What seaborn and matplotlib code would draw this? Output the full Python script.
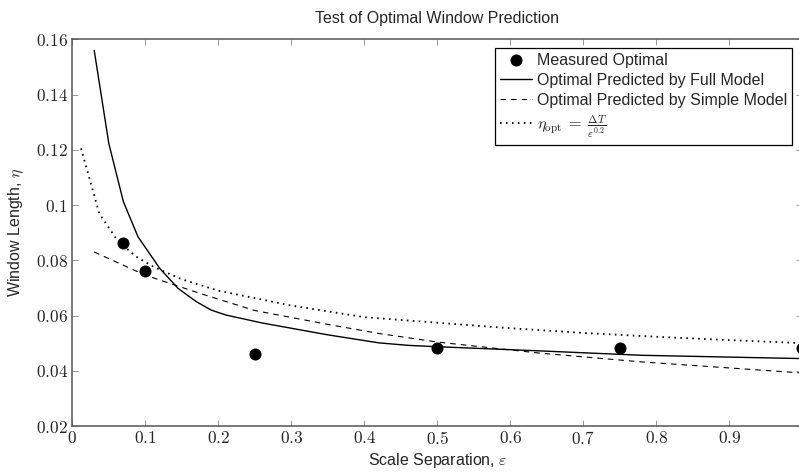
import matplotlib
matplotlib.use("Agg")
import matplotlib.pyplot as plt
from matplotlib.ticker import FuncFormatter
import seaborn as sns
import pandas as pd

# ---- data ----
meas_x = [0.07, 0.10, 0.25, 0.50, 0.75, 1.00]
meas_y = [0.0861, 0.0762, 0.0460, 0.0481, 0.0482, 0.0481]

full_x = [0.03, 0.05, 0.07, 0.09, 0.12, 0.145, 0.17, 0.19, 0.21, 0.26, 0.35, 0.42, 0.46, 0.50, 0.64, 0.78, 1.00]
full_y = [0.156, 0.1223, 0.1012, 0.0885, 0.0770, 0.0698, 0.0650, 0.0620, 0.0602, 0.0573, 0.0530, 0.0501, 0.0492, 0.0487, 0.0472, 0.0456, 0.0444]

simple_x = [0.03, 0.10, 0.175, 0.25, 0.35, 0.42, 0.50, 0.64, 0.78, 1.00]
simple_y = [0.0830, 0.0746, 0.0680, 0.0618, 0.0568, 0.0535, 0.0504, 0.0464, 0.0432, 0.0392]

opt_x = [0.012, 0.037, 0.062, 0.087, 0.112, 0.15, 0.20, 0.30, 0.40, 0.50, 0.60, 0.70, 0.80, 0.90, 1.00]
opt_y = [0.1205, 0.0969, 0.0871, 0.0814, 0.0775, 0.0731, 0.0690, 0.0636, 0.0594, 0.0574, 0.0554, 0.0537, 0.0523, 0.0511, 0.0500]

xticks = [0, 0.1, 0.2, 0.3, 0.4, 0.5, 0.6, 0.7, 0.8, 0.9]
yticks = [0.02, 0.04, 0.06, 0.08, 0.1, 0.12, 0.14, 0.16]

title = "Test of Optimal Window Prediction"
xlabel = r"Scale Separation, $\varepsilon$"
ylabel = r"Window Length, $\eta$"
labels = ["Measured Optimal", "Optimal Predicted by Full Model",
          "Optimal Predicted by Simple Model",
          r"$\eta_{\rm opt}\;=\;\frac{\Delta T}{\varepsilon^{0.2}}$"]

# ---- styling ----
sns.set_style("ticks")
plt.rcParams["font.family"] = ["Liberation Sans", "DejaVu Sans"]
plt.rcParams["mathtext.fontset"] = "cm"

fig = plt.figure(figsize=(7.99, 4.73), dpi=100)
ax = fig.add_axes([72.3 / 799, 1 - 426 / 473, (802.3 - 72.3) / 799, (426 - 39.3) / 473])

df_meas = pd.DataFrame({"x": meas_x, "y": meas_y})
df_full = pd.DataFrame({"x": full_x, "y": full_y})
df_simple = pd.DataFrame({"x": simple_x, "y": simple_y})
df_opt = pd.DataFrame({"x": opt_x, "y": opt_y})

sns.scatterplot(data=df_meas, x="x", y="y", ax=ax, color="black", s=75,
                edgecolor="black", linewidth=0, label=labels[0], zorder=5, clip_on=False)
sns.lineplot(data=df_full, x="x", y="y", ax=ax, color="black", lw=1.0,
             sort=False, estimator=None, label=labels[1])
sns.lineplot(data=df_simple, x="x", y="y", ax=ax, color="black", lw=0.8,
             sort=False, estimator=None, label=labels[2], dashes=False)
sns.lineplot(data=df_opt, x="x", y="y", ax=ax, color="black", lw=1.3,
             sort=False, estimator=None, label=labels[3], dashes=False)

lines = ax.get_lines()
lines[1].set_linestyle((0, (5.0, 4.5)))
lines[2].set_linestyle((0, (0.9, 2.4)))

ax.set_xlim(0, 1.0)
ax.set_ylim(0.02, 0.16)
ax.set_xticks(xticks)
ax.set_yticks(yticks)
ax.xaxis.set_major_formatter(FuncFormatter(lambda v, p: f"${v:g}$"))
ax.yaxis.set_major_formatter(FuncFormatter(lambda v, p: f"${v:g}$"))
ax.tick_params(direction="in", top=True, right=True, length=4.5, width=0.6,
               color="#888888", labelsize=12.5, pad=3)
for s in ax.spines.values():
    s.set_visible(True)
    s.set_color("#555555")
    s.set_linewidth(1.1)

ax.set_xlabel(xlabel, fontsize=11.5, labelpad=3)
ax.set_ylabel(ylabel, fontsize=11.5, labelpad=7)
ax.set_title(title, fontsize=11.5, pad=12)

leg = ax.legend(loc="upper right", bbox_to_anchor=(0.9855, 0.978), fontsize=11.5,
                frameon=True, fancybox=False, edgecolor="black", framealpha=1,
                handlelength=2.0, handletextpad=0.3, labelspacing=0.32,
                borderpad=0.3, borderaxespad=0)
leg.get_frame().set_linewidth(0.9)

fig.savefig("out.png", dpi=100)
